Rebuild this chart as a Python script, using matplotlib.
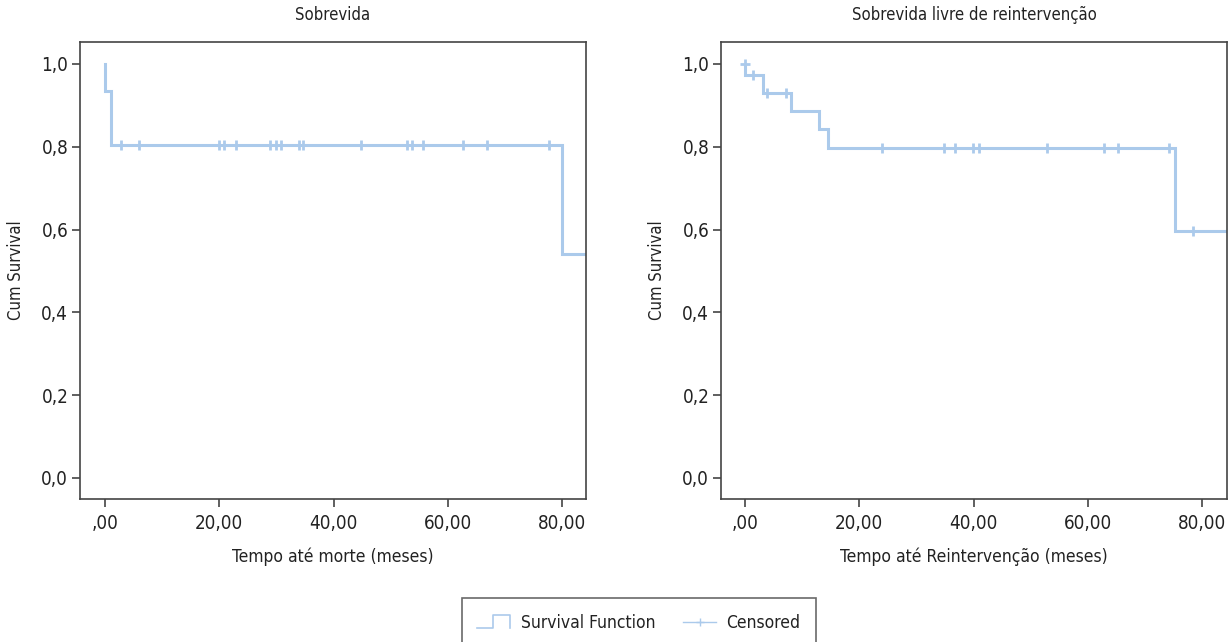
import numpy as np
import matplotlib
matplotlib.use("Agg")
import matplotlib.pyplot as plt
from matplotlib.lines import Line2D
from matplotlib.legend_handler import HandlerBase
from matplotlib.ticker import FuncFormatter, MultipleLocator

plt.rcParams['font.family'] = ['DejaVu Sans']
plt.rcParams['font.stretch'] = 'condensed'

# Kaplan-Meier estimates: overall survival
surv_event_times = [0.0, 1.0, 80.0]
surv_event_values = [0.935, 0.804, 0.541]
surv_censored = [2.85, 5.9, 19.9, 20.8, 23.0, 28.9, 29.9, 30.8, 33.9, 34.7,
                 44.8, 52.8, 53.8, 55.7, 62.7, 66.8, 77.8]
surv_last_follow_up = 90.0

# Kaplan-Meier estimates: reintervention-free survival
reop_event_times = [0.0, 3.2, 8.0, 13.0, 14.6, 75.3]
reop_event_values = [0.973, 0.931, 0.887, 0.844, 0.798, 0.596]
reop_censored = [0.0, 1.45, 3.8, 7.1, 24.0, 34.8, 36.8, 39.9, 41.0, 52.9,
                 62.8, 65.2, 74.1, 78.3]
reop_last_follow_up = 90.0

titles = ["Sobrevida", "Sobrevida livre de reintervenção"]
xlabels = ["Tempo até morte (meses)", "Tempo até Reintervenção (meses)"]

line_color = "#abcaeb"
text_color = "#222222"
spine_color = "#444444"


def draw_km(ax, times, values, censored, last):
    xs = [0.0] + list(times) + [last]
    ys = [1.0] + list(values) + [values[-1]]
    ax.step(xs, ys, where="post", color=line_color, lw=2.2, solid_joinstyle="miter")
    # censor marks sit on the current level of the curve
    cy = []
    for t in censored:
        if t <= times[0]:
            cy.append(1.0)
        else:
            idx = np.searchsorted(times, t, side="right")
            cy.append(values[idx - 1])
    ax.plot(censored, cy, ls="none", marker="+", ms=7, mew=2.0, color=line_color)


def x_fmt(v, pos):
    s = f"{v:.2f}".replace(".", ",")
    if s.startswith("0,"):
        s = s[1:]
    return s


def y_fmt(v, pos):
    return f"{v:.1f}".replace(".", ",")


fig = plt.figure(figsize=(12.31, 6.42), dpi=100)
ax1 = fig.add_axes([0.065, 0.2227, 0.411, 0.7118])
ax2 = fig.add_axes([0.5857, 0.2227, 0.411, 0.7118])

draw_km(ax1, surv_event_times, surv_event_values, surv_censored, surv_last_follow_up)
draw_km(ax2, reop_event_times, reop_event_values, reop_censored, reop_last_follow_up)

for ax, title, xlabel, xlim in zip([ax1, ax2], titles, xlabels, [(-4.4, 84.2), (-4.2, 84.3)]):
    ax.set_xlim(*xlim)
    ax.set_ylim(-0.051, 1.053)
    ax.xaxis.set_major_locator(MultipleLocator(20))
    ax.yaxis.set_major_locator(MultipleLocator(0.2))
    ax.xaxis.set_major_formatter(FuncFormatter(x_fmt))
    ax.yaxis.set_major_formatter(FuncFormatter(y_fmt))
    ax.tick_params(axis="both", direction="out", length=5.5, width=1.2,
                   color=spine_color, labelsize=13.5, labelcolor=text_color)
    ax.tick_params(axis="x", pad=5)
    ax.tick_params(axis="y", pad=3)
    for sp in ax.spines.values():
        sp.set_color(spine_color)
        sp.set_linewidth(1.2)
    ax.set_title(title, fontsize=12, color=text_color, pad=16)
    ax.set_xlabel(xlabel, fontsize=12.5, color=text_color, labelpad=11)
    ax.set_ylabel("Cum Survival", fontsize=12, color=text_color, labelpad=12)


class StepHandler(HandlerBase):
    def create_artists(self, legend, orig_handle, xdescent, ydescent,
                       width, height, fontsize, trans):
        x0, x1 = -xdescent, -xdescent + width
        lo, hi = -ydescent, -ydescent + height
        xm = x0 + 0.48 * width
        line = Line2D([x0, xm, xm, x1, x1], [lo, lo, hi, hi, lo],
                      color=line_color, lw=1.2, transform=trans)
        return [line]


step_handle = Line2D([], [], color=line_color)
cens_handle = Line2D([], [], color=line_color, lw=1.0, marker="+", ms=6, mew=1.0)
leg = fig.legend([step_handle, cens_handle], ["Survival Function", "Censored"],
                 handler_map={step_handle: StepHandler()},
                 loc="upper center", bbox_to_anchor=(0.519, 0.0685), ncol=2,
                 frameon=True, fancybox=False, fontsize=12.5, handlelength=1.9,
                 handletextpad=0.6, columnspacing=1.6, borderpad=0.9,
                 borderaxespad=0.0, labelcolor=text_color)
leg.get_frame().set_edgecolor(spine_color)
leg.get_frame().set_linewidth(1.2)

fig.savefig("out.png", dpi=100)
